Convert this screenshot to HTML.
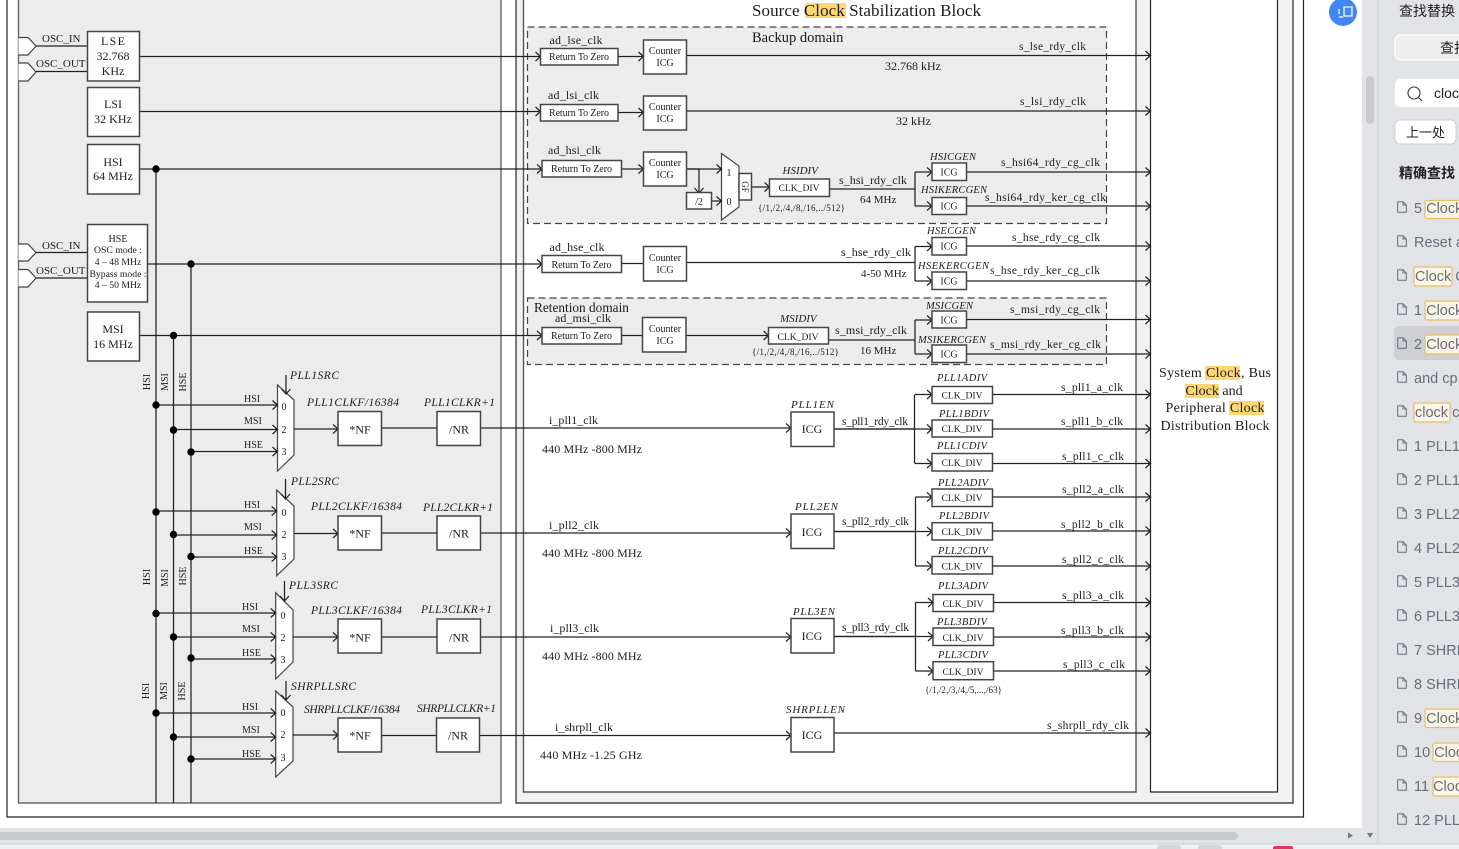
<!DOCTYPE html>
<html><head><meta charset="utf-8"><style>
html,body{margin:0;padding:0;background:#fff;overflow:hidden}
svg{display:block}
text{font-family:"Liberation Serif",serif;fill:#1c1c1c;font-size:12px}
.s{font-size:10px}.m{font-size:11.5px}.o{font-size:11px}.c{text-anchor:middle}
.i{font-style:italic;font-size:11.5px}
.d{font-size:9.6px;text-anchor:middle}
.b{fill:#fff;stroke:#444;stroke-width:1.5}
.l path{fill:none;stroke:#222;stroke-width:1.25}
.u{font-family:"Liberation Sans","Noto Sans CJK SC",sans-serif;font-size:14.5px;fill:#666e7a}
.k{font-family:"Liberation Sans","Noto Sans CJK SC",sans-serif;font-size:14px;fill:#222}
.h{fill:#fdf5e6;stroke:#e8be6a;stroke-width:1.2}
</style></head><body>
<svg width="1459" height="849" viewBox="0 0 1459 849" xmlns="http://www.w3.org/2000/svg">
<defs>
<marker id="a" markerUnits="userSpaceOnUse" markerWidth="12" markerHeight="12" refX="10" refY="6" orient="auto"><path d="M5,1.5L10,6L5,10.5" fill="none" stroke="#222" stroke-width="1.2"/></marker>
<symbol id="f" viewBox="0 0 10 12" width="10" height="12"><path d="M.7,.7H6L9.3,4V11.3H.7Z M6,.7V4H9.3" fill="none" stroke="#666e7a" stroke-width="1"/></symbol>
</defs>
<rect x="0" y="0" width="1459" height="849" fill="#fff"/>
<path d="M7,0V817H1303.5V0" fill="none" stroke="#222" stroke-width="1.2"/>
<path d="M18.5,-2H501V803H18.5Z" fill="#ececec" stroke="#666" stroke-width="1.4"/>
<path d="M516,-2H1293V803H516Z" fill="#f1f1f1" stroke="#444" stroke-width="1.4"/>
<path d="M523.5,-2H1136V792H523.5Z" fill="#fff" stroke="#555" stroke-width="1.4"/>
<path d="M1150.5,-2H1277.5V792H1150.5Z" fill="#fff" stroke="#222" stroke-width="1.2"/>
<rect x="527.5" y="27" width="579" height="196.5" fill="#ececec" stroke="#444" stroke-width="1.2" stroke-dasharray="7 4"/>
<rect x="527.5" y="298" width="579" height="66.5" fill="#ececec" stroke="#444" stroke-width="1.2" stroke-dasharray="7 4"/>

<!-- highlights -->
<rect x="805" y="3" width="41" height="15" fill="#ffd772"/>
<rect x="1205" y="366" width="35" height="14" fill="#ffd772"/>
<rect x="1185" y="384" width="34" height="14" fill="#ffd772"/>
<rect x="1229" y="401" width="35" height="14" fill="#ffd772"/>

<!-- pin shapes -->
<g fill="#fff" stroke="#444" stroke-width="1.2">
<path d="M18.5,37.5H28L36,46L28,55H18.5"/><path d="M18.5,63H28L36,72L28,81H18.5"/>
<path d="M18.5,244H28L36,252.5L28,261H18.5"/><path d="M18.5,269.5H28L36,278L28,287H18.5"/>
<path d="M277.5,385L294,400V455L277.5,471Z"/>
<path d="M276.7,490L294,506V559L276.7,575.7Z"/>
<path d="M275.7,592.7L293,610V662L275.7,679Z"/>
<path d="M275.7,691L293,707V761L275.7,777Z"/>
<path d="M721.5,153.5L739,166V207L721.5,220Z"/>
</g>

<!-- plain lines -->
<g class="l">
<path d="M36,46H87.5M36,71.5H87.5M36,252.5H87.5M36,278H87.5"/>
<path d="M156,169V803M173.5,335.5V803M191,264V803"/>
<path d="M381.5,428H437M381.5,533H437M381.5,637H437M381.5,735.5H437"/>
<path d="M621.5,263.5H643M621.5,335.5H642.5"/>
<path d="M699,169H686.5M829.5,189H915M915,172V206M828.5,340H915M915,320V354M686.5,262.5H915M915,246.5V281"/>
<path d="M834,429H915M914.5,394.5V463.5M834,531.5H916M915.5,497V566M834,636.5H916M915.5,602.5V671"/>
</g>

<!-- arrow lines -->
<g class="l" marker-end="url(#a)">
<path d="M139.5,56.5H540.5"/><path d="M139.5,111.5H540.5"/><path d="M139.5,169H542"/><path d="M147.5,264H542"/><path d="M139.5,335.5H542"/>
<path d="M618,56.5H643.5"/><path d="M618,112.5H643.5"/><path d="M621.5,169H643.5"/>
<path d="M686.5,55.5H1150.5"/><path d="M686.5,111H1150.5"/>
<path d="M686.5,169H721.5"/><path d="M699,169V193"/><path d="M711.5,201H721.5"/><path d="M751.5,187H769.5"/>
<path d="M686,335.5H768.5"/>
<path d="M915,172H932"/><path d="M915,206H932"/><path d="M966.5,172H1150.5"/><path d="M966.5,206H1150.5"/>
<path d="M915,246.5H932"/><path d="M915,281H932"/><path d="M966.5,246H1150.5"/><path d="M966.5,281H1150.5"/>
<path d="M915,320H932"/><path d="M915,354H932"/><path d="M966.5,319.5H1150.5"/><path d="M966.5,354H1150.5"/>
<path d="M156,405H277.5"/><path d="M173.5,429.5H277.5"/><path d="M191,451.5H277.5"/>
<path d="M156,511H276.7"/><path d="M173.5,535H276.7"/><path d="M191,557H276.7"/>
<path d="M156,613H275.7"/><path d="M173.5,637H275.7"/><path d="M191,659H275.7"/>
<path d="M156,713H275.7"/><path d="M173.5,737H275.7"/><path d="M191,759H275.7"/>
<path d="M286,375V394"/><path d="M285.5,479V499"/><path d="M284.5,581V601"/><path d="M286,681V700"/>
<path d="M294,429H338"/><path d="M294,533.5H338"/><path d="M293,637H338"/><path d="M293,735H338"/>
<path d="M480.5,428H791"/><path d="M480.5,533H791"/><path d="M480.5,637H791"/><path d="M479.5,735.5H791"/>
<path d="M915,394.5H932"/><path d="M834,429H932"/><path d="M915,463.5H932"/>
<path d="M992.5,394.5H1150.5"/><path d="M992.5,429H1150.5"/><path d="M992.5,463.5H1150.5"/>
<path d="M915.5,497H932"/><path d="M834,531.5H932"/><path d="M915.5,566H932"/>
<path d="M992.5,497H1150.5"/><path d="M992.5,531H1150.5"/><path d="M992.5,566H1150.5"/>
<path d="M915.5,602.5H933"/><path d="M834,636.5H933"/><path d="M915.5,671H933"/>
<path d="M993.5,602.5H1150.5"/><path d="M993.5,637H1150.5"/><path d="M993.5,671H1150.5"/>
<path d="M834,733H1150.5"/>
</g>

<!-- dots -->
<g fill="#000">
<circle cx="156" cy="169" r="3.7"/><circle cx="191" cy="264" r="3.7"/><circle cx="173.5" cy="335.5" r="3.7"/>
<circle cx="156" cy="405" r="3.7"/><circle cx="173.5" cy="430" r="3.7"/><circle cx="191" cy="452" r="3.7"/>
<circle cx="156" cy="512" r="3.7"/><circle cx="173.5" cy="534.5" r="3.7"/><circle cx="191" cy="556.5" r="3.7"/>
<circle cx="156" cy="613.5" r="3.7"/><circle cx="173.5" cy="637" r="3.7"/><circle cx="191" cy="658" r="3.7"/>
<circle cx="156" cy="713" r="3.7"/><circle cx="173.5" cy="737" r="3.7"/><circle cx="191" cy="759" r="3.7"/>
</g>

<!-- boxes -->
<g class="b">
<rect x="87.5" y="31.5" width="52" height="49.5"/><rect x="87.5" y="87.5" width="52" height="49"/><rect x="87.5" y="144.5" width="52" height="49.5"/><rect x="87.5" y="224.5" width="60" height="77.5"/><rect x="87.5" y="312" width="52" height="49"/>
<rect x="338" y="411.5" width="43.5" height="34"/><rect x="437" y="411.5" width="43.5" height="34"/>
<rect x="338" y="516" width="43.5" height="34"/><rect x="437" y="516" width="43.5" height="34"/>
<rect x="338" y="619" width="43.5" height="34"/><rect x="437" y="619" width="43.5" height="34"/>
<rect x="338" y="718" width="43.5" height="34"/><rect x="436.5" y="718" width="43" height="34"/>
<rect x="540.5" y="48.5" width="77.5" height="16.5"/><rect x="540.5" y="104.5" width="77.5" height="16.5"/>
<rect x="542" y="160.5" width="79.5" height="16.5"/><rect x="542" y="255.5" width="79.5" height="17"/><rect x="542" y="327.5" width="79.5" height="16.5"/>
<rect x="643.5" y="40" width="43" height="34"/><rect x="643.5" y="96" width="43" height="34"/><rect x="643.5" y="152" width="43" height="34"/><rect x="643.5" y="246.5" width="43" height="34.5"/><rect x="642.5" y="317.5" width="43.5" height="34.5"/>
<rect x="686.5" y="192.5" width="25" height="16.5"/><rect x="739" y="173.5" width="12.5" height="26.5"/>
<rect x="769.5" y="179" width="60" height="17.5"/><rect x="768.5" y="327.5" width="60" height="16.5"/>
<rect x="932" y="163" width="34.5" height="17.5"/><rect x="932" y="197.5" width="34.5" height="17"/>
<rect x="932" y="237.5" width="34.5" height="17.5"/><rect x="932" y="272" width="34.5" height="17.5"/>
<rect x="932" y="311" width="34.5" height="17"/><rect x="932" y="345" width="34.5" height="17.5"/>
<rect x="791" y="412" width="43" height="34.5"/><rect x="791" y="514" width="43" height="34.5"/><rect x="791" y="618.5" width="43" height="34.5"/><rect x="791" y="717.5" width="43" height="34.5"/>
<rect x="932" y="386.5" width="60.5" height="17"/><rect x="932" y="420" width="60.5" height="17"/><rect x="932" y="453.5" width="60.5" height="17.5"/>
<rect x="932" y="489" width="60.5" height="17.5"/><rect x="932" y="522.7" width="60.5" height="17.3"/><rect x="932" y="556.5" width="60.5" height="17.5"/>
<rect x="933" y="594.5" width="60.5" height="17"/><rect x="933" y="628" width="60.5" height="17.5"/><rect x="933" y="661.7" width="60.5" height="18"/>
</g>

<!-- left text -->
<text x="42" y="42" class="o">OSC_IN</text><text x="36" y="67" class="o">OSC_OUT</text>
<text x="42" y="249" class="o">OSC_IN</text><text x="36" y="274" class="o">OSC_OUT</text>
<g class="c">
<text x="113" y="45" class="c" textLength="24">LSE</text><text x="113" y="60" class="c">32.768</text><text x="113" y="75" class="c">KHz</text>
<text x="113" y="108" class="c">LSI</text><text x="113" y="123" class="c">32 KHz</text>
<text x="113" y="166" class="c">HSI</text><text x="113" y="180" class="c">64 MHz</text>
<text x="118" y="242" class="c s">HSE</text><text x="118" y="253" class="c s" style="font-size:9.7px">OSC mode :</text><text x="118" y="265" class="c s" style="font-size:9.7px">4 – 48 MHz</text><text x="118" y="277" class="c s" style="font-size:9.7px">Bypass mode :</text><text x="118" y="288" class="c s" style="font-size:9.7px">4 – 50 MHz</text>
<text x="113" y="333" class="c">MSI</text><text x="113" y="348" class="c">16 MHz</text>
</g>

<g class="s">
<text class="s c" transform="translate(150,382) rotate(-90)">HSI</text><text class="s c" transform="translate(168,382) rotate(-90)">MSI</text><text class="s c" transform="translate(186,382) rotate(-90)">HSE</text>
<text class="s c" transform="translate(150,577) rotate(-90)">HSI</text><text class="s c" transform="translate(168,578) rotate(-90)">MSI</text><text class="s c" transform="translate(186,576) rotate(-90)">HSE</text>
<text class="s c" transform="translate(149,691) rotate(-90)">HSI</text><text class="s c" transform="translate(167,691) rotate(-90)">MSI</text><text class="s c" transform="translate(185,691) rotate(-90)">HSE</text>
</g>

<text x="244" y="402" class="s">HSI</text><text x="244" y="424" class="s">MSI</text><text x="244" y="448" class="s">HSE</text>
<text x="244" y="508" class="s">HSI</text><text x="244" y="530" class="s">MSI</text><text x="244" y="554" class="s">HSE</text>
<text x="242" y="610" class="s">HSI</text><text x="242" y="632" class="s">MSI</text><text x="242" y="656" class="s">HSE</text>
<text x="242" y="710" class="s">HSI</text><text x="242" y="733" class="s">MSI</text><text x="242" y="757" class="s">HSE</text>

<text x="284" y="410" class="s c">0</text><text x="284" y="433" class="s c">2</text><text x="284" y="455" class="s c">3</text>
<text x="284" y="516" class="s c">0</text><text x="284" y="538" class="s c">2</text><text x="284" y="560" class="s c">3</text>
<text x="283" y="619" class="s c">0</text><text x="283" y="641" class="s c">2</text><text x="283" y="663" class="s c">3</text>
<text x="283" y="716" class="s c">0</text><text x="283" y="738" class="s c">2</text><text x="283" y="761" class="s c">3</text>

<text x="290" y="379" class="i" textLength="49">PLL1SRC</text><text x="291" y="485" class="i" textLength="48">PLL2SRC</text><text x="289" y="589" class="i" textLength="49">PLL3SRC</text><text x="291" y="690" class="i" textLength="65">SHRPLLSRC</text>
<text x="307" y="406" class="i" textLength="92">PLL1CLKF/16384</text><text x="424" y="406" class="i" textLength="71">PLL1CLKR+1</text>
<text x="311" y="510" class="i" textLength="91">PLL2CLKF/16384</text><text x="423" y="511" class="i" textLength="70">PLL2CLKR+1</text>
<text x="311" y="614" class="i" textLength="91">PLL3CLKF/16384</text><text x="421" y="613" class="i" textLength="71">PLL3CLKR+1</text>
<text x="304" y="713" class="i" textLength="96">SHRPLLCLKF/16384</text><text x="417" y="712" class="i" textLength="79">SHRPLLCLKR+1</text>

<text x="360" y="433.5" class="c">*NF</text><text x="459" y="433.5" class="c">/NR</text>
<text x="360" y="537.5" class="c">*NF</text><text x="459" y="537.5" class="c">/NR</text>
<text x="360" y="641.5" class="c">*NF</text><text x="459" y="641.5" class="c">/NR</text>
<text x="360" y="739.5" class="c">*NF</text><text x="458" y="739.5" class="c">/NR</text>

<!-- centre text -->
<text x="752" y="16" style="font-size:17px" textLength="229">Source Clock Stabilization Block</text>
<text x="752" y="42" style="font-size:14.5px">Backup domain</text>
<text x="534" y="312" style="font-size:13.3px">Retention domain</text>
<text x="549.5" y="44" textLength="53">ad_lse_clk</text><text x="548" y="99" textLength="51">ad_lsi_clk</text><text x="548" y="154" textLength="53">ad_hsi_clk</text><text x="549.5" y="251" textLength="55">ad_hse_clk</text><text x="555" y="322" textLength="56">ad_msi_clk</text>
<text x="579" y="60" class="s c" textLength="60">Return To Zero</text><text x="579" y="116" class="s c" textLength="60">Return To Zero</text><text x="581.5" y="172" class="s c" textLength="61">Return To Zero</text><text x="581.5" y="268" class="s c" textLength="60">Return To Zero</text><text x="581.5" y="339" class="s c" textLength="61">Return To Zero</text>
<text x="665" y="54" class="s c">Counter</text><text x="665" y="66" class="s c">ICG</text>
<text x="665" y="110" class="s c">Counter</text><text x="665" y="122" class="s c">ICG</text>
<text x="665" y="166" class="s c">Counter</text><text x="665" y="178" class="s c">ICG</text>
<text x="665" y="261" class="s c">Counter</text><text x="665" y="273" class="s c">ICG</text>
<text x="665" y="332" class="s c">Counter</text><text x="665" y="344" class="s c">ICG</text>
<text x="885" y="70">32.768 kHz</text><text x="896" y="125">32 kHz</text>
<text x="729" y="176" class="s c">1</text><text x="729" y="205" class="s c">0</text>
<text x="699" y="205" class="s c">/2</text>
<text class="s c" transform="translate(742,187) rotate(90)" style="font-size:9px">GF</text>
<text x="799" y="191" class="d">CLK_DIV</text><text x="798" y="340" class="d">CLK_DIV</text>
<text x="782.5" y="174" class="i" style="font-size:11px">HSIDIV</text><text x="780" y="322" class="i" style="font-size:11px">MSIDIV</text>
<text x="758" y="211" class="s" style="font-size:9px" textLength="87">{/1,/2,/4,/8,/16,../512}</text>
<text x="752" y="355" class="s" style="font-size:9px" textLength="87">{/1,/2,/4,/8,/16,../512}</text>
<text x="839" y="184" textLength="68">s_hsi_rdy_clk</text><text x="860" y="203" class="o">64 MHz</text>
<text x="841" y="256" textLength="70">s_hse_rdy_clk</text><text x="861" y="277" class="o">4-50 MHz</text>
<text x="835" y="334" textLength="72">s_msi_rdy_clk</text><text x="860" y="354" class="o">16 MHz</text>
<text x="1019" y="50" class="m" textLength="67">s_lse_rdy_clk</text><text x="1020" y="105" class="m" textLength="66">s_lsi_rdy_clk</text>
<text x="1001" y="166" class="m" textLength="99">s_hsi64_rdy_cg_clk</text><text x="985" y="201" class="m" textLength="121">s_hsi64_rdy_ker_cg_clk</text>
<text x="1012" y="241" class="m" textLength="88">s_hse_rdy_cg_clk</text><text x="990" y="274" class="m" textLength="110">s_hse_rdy_ker_cg_clk</text>
<text x="1010" y="313" class="m" textLength="90">s_msi_rdy_cg_clk</text><text x="990" y="348" class="m" textLength="111">s_msi_rdy_ker_cg_clk</text>
<text x="930" y="160" class="i" style="font-size:10.5px" textLength="46">HSICGEN</text><text x="921" y="193" class="i" style="font-size:10.5px" textLength="66">HSIKERCGEN</text>
<text x="927" y="234" class="i" style="font-size:10.5px" textLength="49">HSECGEN</text><text x="918" y="269" class="i" style="font-size:10.5px" textLength="71">HSEKERCGEN</text>
<text x="926" y="309" class="i" style="font-size:10.5px" textLength="47">MSICGEN</text><text x="918" y="343" class="i" style="font-size:10.5px" textLength="68">MSIKERCGEN</text>
<text x="949" y="175.5" class="s c">ICG</text><text x="949" y="209.5" class="s c">ICG</text><text x="949" y="249.5" class="s c">ICG</text><text x="949" y="284.5" class="s c">ICG</text><text x="949" y="323.5" class="s c">ICG</text><text x="949" y="357.5" class="s c">ICG</text>

<text x="549" y="424" textLength="49">i_pll1_clk</text><text x="549" y="529" textLength="50">i_pll2_clk</text><text x="550" y="632" textLength="49">i_pll3_clk</text><text x="555" y="731" textLength="58">i_shrpll_clk</text>
<text x="542" y="453" textLength="100">440 MHz -800 MHz</text><text x="542" y="557" textLength="100">440 MHz -800 MHz</text><text x="542" y="660" textLength="100">440 MHz -800 MHz</text><text x="540" y="759" textLength="102">440 MHz -1.25 GHz</text>
<text x="812" y="433" class="c">ICG</text><text x="812" y="536" class="c">ICG</text><text x="812" y="640" class="c">ICG</text><text x="812" y="739" class="c">ICG</text>
<text x="791" y="408" class="i" style="font-size:11px" textLength="43">PLL1EN</text><text x="795" y="510" class="i" style="font-size:11px" textLength="43">PLL2EN</text><text x="793" y="615" class="i" style="font-size:11px" textLength="42">PLL3EN</text><text x="786" y="713" class="i" style="font-size:11px" textLength="59">SHRPLLEN</text>
<text x="842" y="425" class="m" textLength="66">s_pll1_rdy_clk</text><text x="842" y="525" class="m" textLength="67">s_pll2_rdy_clk</text><text x="842" y="631" class="m" textLength="67">s_pll3_rdy_clk</text>
<text x="962" y="398.5" class="d">CLK_DIV</text><text x="962" y="432" class="d">CLK_DIV</text><text x="962" y="466" class="d">CLK_DIV</text>
<text x="962" y="501" class="d">CLK_DIV</text><text x="962" y="535" class="d">CLK_DIV</text><text x="962" y="569.5" class="d">CLK_DIV</text>
<text x="963" y="607" class="d">CLK_DIV</text><text x="963" y="641" class="d">CLK_DIV</text><text x="963" y="675" class="d">CLK_DIV</text>
<text x="937" y="381" class="i" style="font-size:10.5px" textLength="50">PLL1ADIV</text><text x="939" y="417" class="i" style="font-size:10.5px" textLength="50">PLL1BDIV</text><text x="937" y="449" class="i" style="font-size:10.5px" textLength="50">PLL1CDIV</text>
<text x="938" y="486" class="i" style="font-size:10.5px" textLength="50">PLL2ADIV</text><text x="939" y="519" class="i" style="font-size:10.5px" textLength="50">PLL2BDIV</text><text x="938" y="554" class="i" style="font-size:10.5px" textLength="50">PLL2CDIV</text>
<text x="938" y="589" class="i" style="font-size:10.5px" textLength="50">PLL3ADIV</text><text x="937" y="625" class="i" style="font-size:10.5px" textLength="50">PLL3BDIV</text><text x="938" y="658" class="i" style="font-size:10.5px" textLength="50">PLL3CDIV</text>
<text x="1061" y="391" class="m" textLength="62">s_pll1_a_clk</text><text x="1061" y="425" class="m" textLength="62">s_pll1_b_clk</text><text x="1062" y="460" class="m" textLength="62">s_pll1_c_clk</text>
<text x="1062" y="493" class="m" textLength="62">s_pll2_a_clk</text><text x="1061" y="528" class="m" textLength="63">s_pll2_b_clk</text><text x="1062" y="563" class="m" textLength="62">s_pll2_c_clk</text>
<text x="1062" y="599" class="m" textLength="62">s_pll3_a_clk</text><text x="1061" y="634" class="m" textLength="63">s_pll3_b_clk</text><text x="1063" y="668" class="m" textLength="62">s_pll3_c_clk</text>
<text x="925" y="693" class="s" style="font-size:9px" textLength="77">{/1,/2,/3,/4,/5,...,/63}</text>
<text x="1047" y="729" class="m" textLength="82">s_shrpll_rdy_clk</text>

<text x="1215" y="377" class="c" style="font-size:14px" textLength="112">System Clock, Bus</text>
<text x="1214" y="395" class="c" style="font-size:14px">Clock and</text>
<text x="1215" y="412" class="c" style="font-size:14px" textLength="99">Peripheral Clock</text>
<text x="1215" y="430" class="c" style="font-size:14px" textLength="109">Distribution Block</text>

<!-- app chrome -->
<rect x="1362" y="0" width="97" height="849" fill="#e1e3e6"/>
<rect x="0" y="828" width="1459" height="21" fill="#e1e3e6"/>
<path d="M1378,0V844" stroke="#d0d2d5" stroke-width="1"/>
<rect x="0" y="844" width="1459" height="5" fill="#eef0f1"/>
<path d="M0,844H1459" stroke="#cfd1d4"/>
<rect x="-6" y="832" width="1244" height="8" rx="4" fill="#c8c9cb"/>
<path d="M1348,832.5L1353,835.5L1348,838.5Z" fill="#777"/><path d="M1367,833H1373L1370,838Z" fill="#777"/>
<rect x="1157" y="845" width="24" height="6" rx="3" fill="#d3d5d8"/><rect x="1198" y="845" width="24" height="6" rx="3" fill="#d3d5d8"/><rect x="1273" y="846" width="20" height="5" rx="2" fill="#dc3560"/>
<rect x="1366" y="76" width="8" height="48" rx="4" fill="#c8cacd"/>
<circle cx="1343" cy="12" r="14" fill="#4285f4"/>
<path d="M1344,7h8v9h-8zM1339,9v5M1339,17h4" fill="none" stroke="#fff" stroke-width="1.3"/>

<text x="1399" y="16" class="k">查找替换</text>
<rect x="1395" y="35" width="80" height="25" rx="6" fill="#efeeec" stroke="#fbfbfb" stroke-width="1.5"/>
<text x="1440" y="53" class="k">查找</text>
<rect x="1395" y="79" width="80" height="28" rx="5" fill="#fff"/>
<circle cx="1414" cy="93" r="6" fill="none" stroke="#333" stroke-width="1.1"/><path d="M1418.5,97.5L1422,101" stroke="#333" stroke-width="1.1"/>
<text x="1434" y="98" class="k">clock</text>
<rect x="1395" y="120" width="61" height="24" rx="5" fill="#fff" stroke="#ccc"/>
<text x="1425.5" y="137" class="k" style="font-size:13px;text-anchor:middle">上一处</text>
<text x="1399" y="178" class="k" style="font-weight:bold">精确查找</text>

<rect x="1394" y="326" width="70" height="34" rx="5" fill="#ced0d4"/>
<rect class="h" x="1425" y="200.5" width="50" height="18" rx="2"/>
<rect class="h" x="1414" y="267" width="38" height="19" rx="2"/>
<rect class="h" x="1425" y="301" width="50" height="19" rx="2"/>
<rect class="h" x="1425" y="335" width="50" height="19" rx="2"/>
<rect class="h" x="1414" y="403" width="36" height="19" rx="2"/>
<rect class="h" x="1425" y="709" width="50" height="18.5" rx="2"/>
<rect class="h" x="1433" y="743" width="45" height="18.5" rx="2"/>
<rect class="h" x="1433" y="777" width="45" height="19" rx="2"/>

<use href="#f" x="1397" y="201"/><use href="#f" x="1397" y="235"/><use href="#f" x="1397" y="269"/><use href="#f" x="1397" y="303"/><use href="#f" x="1397" y="337"/><use href="#f" x="1397" y="371"/><use href="#f" x="1397" y="405"/><use href="#f" x="1397" y="439"/><use href="#f" x="1397" y="473"/><use href="#f" x="1397" y="507"/><use href="#f" x="1397" y="541"/><use href="#f" x="1397" y="575"/><use href="#f" x="1397" y="609"/><use href="#f" x="1397" y="643"/><use href="#f" x="1397" y="677"/><use href="#f" x="1397" y="711"/><use href="#f" x="1397" y="745"/><use href="#f" x="1397" y="779"/><use href="#f" x="1397" y="813"/>

<text x="1414" y="213" class="u">5 Clock</text>
<text x="1414" y="247" class="u">Reset a</text>
<text x="1415" y="281" class="u">Clock C</text>
<text x="1414" y="315" class="u">1 Clock</text>
<text x="1414" y="349" class="u">2 Clock</text>
<text x="1414" y="383" class="u">and cp</text>
<text x="1415" y="417" class="u">clock c</text>
<text x="1414" y="451" class="u">1 PLL1</text>
<text x="1414" y="485" class="u">2 PLL1</text>
<text x="1414" y="519" class="u">3 PLL2</text>
<text x="1414" y="553" class="u">4 PLL2</text>
<text x="1414" y="587" class="u">5 PLL3</text>
<text x="1414" y="621" class="u">6 PLL3</text>
<text x="1414" y="655" class="u">7 SHRP</text>
<text x="1414" y="689" class="u">8 SHRP</text>
<text x="1414" y="723" class="u">9 Clock</text>
<text x="1414" y="757" class="u">10 Clock</text>
<text x="1414" y="791" class="u">11 Clock</text>
<text x="1414" y="825" class="u">12 PLL1</text>
</svg>
</body></html>
